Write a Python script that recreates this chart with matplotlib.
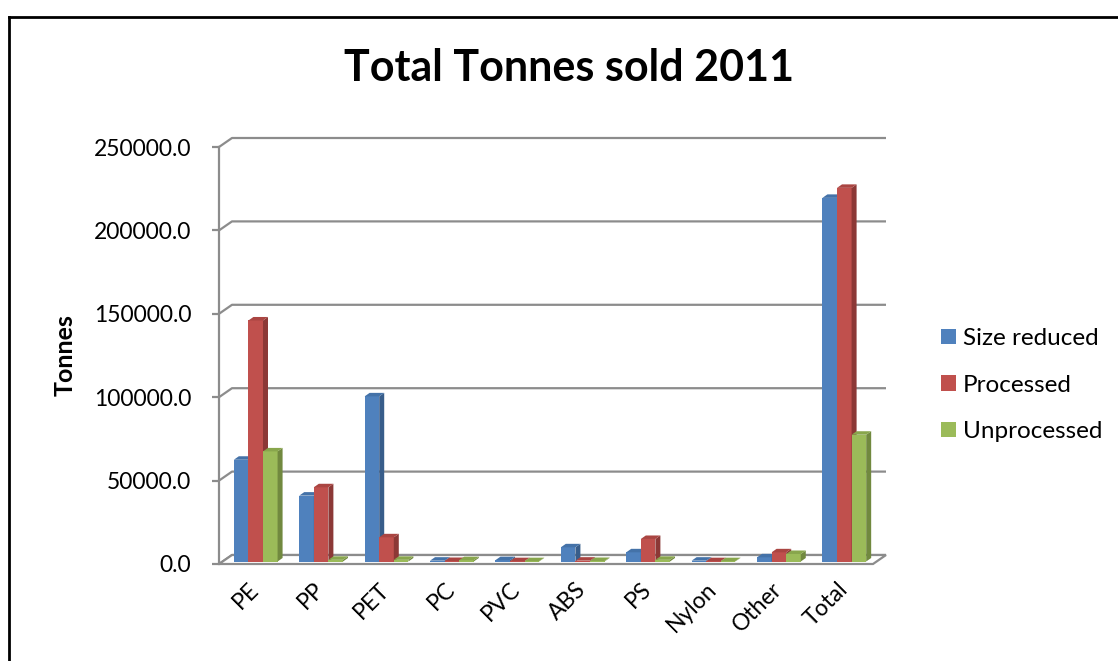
import matplotlib
matplotlib.use("Agg")
import matplotlib.pyplot as plt
from matplotlib.patches import Polygon, Patch
from matplotlib.lines import Line2D
import numpy as np

plt.rcParams['font.family'] = ['Lato', 'DejaVu Sans']

categories = ["PE", "PP", "PET", "PC", "PVC", "ABS", "PS", "Nylon", "Other", "Total"]
size_reduced = [61000, 39500, 99000, 500, 800, 8500, 5500, 500, 2500, 218000]
processed = [144500, 44500, 14500, 300, 200, 500, 13500, 200, 5500, 224000]
unprocessed = [66000, 1000, 1000, 800, 200, 300, 1000, 200, 4500, 76000]
series_names = ["Size reduced", "Processed", "Unprocessed"]
yticks = [0, 50000, 100000, 150000, 200000, 250000]

front = ["#4F81BD", "#C0504D", "#9BBB59"]
side = ["#385D8A", "#8C3836", "#71893F"]
top = ["#4472A8", "#AA4542", "#88A64C"]
grid_c = "#8C8C8C"

W, H = 1118, 661
fig = plt.figure(figsize=(W / 100, H / 100), dpi=100)
ax = fig.add_axes([219 / W, (H - 564) / H, 654 / W, 417 / H])
ax.set_xlim(0, len(categories))
ax.set_ylim(0, 250000)

# pixel -> data units
px = len(categories) / 654
py = 250000 / 417
wall_dx, wall_dy = 13 * px, 9 * py     # depth of the chart box
bar_ox, bar_oy = 4 * px, 2.5 * py      # bars sit a little behind the front
bar_dx, bar_dy = 5 * px, 3.5 * py      # bar depth

# back wall grid + side wall diagonals
for v in yticks:
    ax.plot([0, wall_dx, len(categories) + wall_dx], [v, v + wall_dy, v + wall_dy],
            color=grid_c, lw=1.6, zorder=1, clip_on=False, solid_capstyle='butt')

# floor
floor = Polygon([(0, 0), (len(categories), 0), (len(categories) + wall_dx, wall_dy), (wall_dx, wall_dy)],
                closed=True, facecolor="white", edgecolor=grid_c, lw=1.6, zorder=2, clip_on=False)
ax.add_patch(floor)

bw = 0.223
x = np.arange(len(categories)) + 0.5
data = [size_reduced, processed, unprocessed]
for i in range(len(categories)):
    for s in range(3):
        h = data[s][i]
        x0 = x[i] - 1.5 * bw + s * bw + bar_ox
        x1 = x0 + bw
        y0 = bar_oy
        y1 = y0 + h
        z = 3 + i * 0.1 + s * 0.01
        ax.bar(x0, h, width=bw, bottom=y0, align='edge', color=front[s], lw=0, zorder=z)
        ax.add_patch(Polygon([(x1, y0), (x1 + bar_dx, y0 + bar_dy), (x1 + bar_dx, y1 + bar_dy), (x1, y1)],
                             closed=True, facecolor=side[s], lw=0, zorder=z))
        ax.add_patch(Polygon([(x0, y1), (x1, y1), (x1 + bar_dx, y1 + bar_dy), (x0 + bar_dx, y1 + bar_dy)],
                             closed=True, facecolor=top[s], lw=0, zorder=z))

ax.set_xlim(0, len(categories))
ax.set_ylim(0, 250000)

for sp in ["top", "right", "bottom"]:
    ax.spines[sp].set_visible(False)
ax.spines["left"].set_color(grid_c)
ax.spines["left"].set_linewidth(1.6)
ax.set_facecolor("none")

ax.set_yticks(yticks)
ax.set_yticklabels(["%.1f" % v for v in yticks], fontsize=16.5)
ax.tick_params(axis='y', length=5, width=1.6, color=grid_c, pad=15)

ax.set_xticks(x + bar_ox)
ax.set_xticklabels(categories, fontsize=16.5, rotation=45, ha='right', va='center',
                   rotation_mode='anchor')
ax.tick_params(axis='x', length=0, pad=16)

ax.set_ylabel("Tonnes", fontsize=18, fontweight='bold')
ax.yaxis.set_label_coords((77 - 219) / 654, (564 - 355) / 417)

fig.text(569 / W, 1 - 68 / H, "Total Tonnes sold 2011", fontsize=31, fontweight='bold',
         ha='center', va='center')

handles = [Patch(facecolor=c, edgecolor='none') for c in front]
fig.legend(handles, series_names, loc='center left', bbox_to_anchor=(941 / W, 1 - 385 / H),
           frameon=False, fontsize=17.5, handlelength=0.6, handleheight=0.6,
           handletextpad=0.3, labelspacing=1.05, borderpad=0, borderaxespad=0)

# outer chart frame (left and top edges)
fig.add_artist(Line2D([9 / W, 9 / W], [0, 1 - 17 / H], color='black', lw=2))
fig.add_artist(Line2D([9 / W, 1], [1 - 17 / H, 1 - 17 / H], color='black', lw=2))

fig.savefig("out.png", dpi=100)
